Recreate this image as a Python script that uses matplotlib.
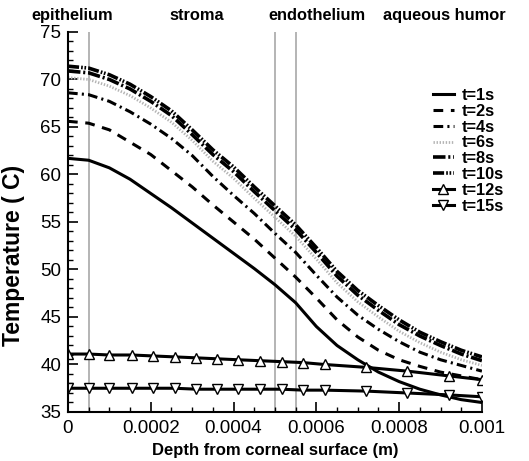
import numpy as np
import matplotlib
matplotlib.use('Agg')
import matplotlib.pyplot as plt
from matplotlib.ticker import MultipleLocator, FixedLocator

plt.rcParams['font.family'] = ['Liberation Sans', 'DejaVu Sans']
plt.rcParams['lines.scale_dashes'] = False

# depth grid (m) for the smooth curves
depth = [0, 0.00005, 0.0001, 0.00015, 0.0002, 0.00025, 0.0003, 0.00035, 0.0004,
         0.00045, 0.0005, 0.00055, 0.0006, 0.00065, 0.0007, 0.00075, 0.0008,
         0.00085, 0.0009, 0.00095, 0.001]

t1 = [61.7, 61.5, 60.7, 59.5, 58.0, 56.5, 54.9, 53.3, 51.7, 50.1, 48.4, 46.5,
      44.0, 42.0, 40.5, 39.2, 38.2, 37.4, 36.8, 36.3, 36.0]
t2 = [65.6, 65.4, 64.7, 63.4, 62.1, 60.4, 58.7, 56.8, 55.0, 53.2, 51.2, 49.2,
      47.0, 44.7, 42.9, 41.5, 40.5, 39.8, 39.2, 38.8, 38.4]
t4 = [68.6, 68.4, 67.7, 66.6, 65.3, 63.8, 62.0, 59.8, 57.8, 55.9, 53.8, 51.8,
      49.4, 47.1, 45.2, 43.7, 42.4, 41.3, 40.5, 39.9, 39.3]
t6 = [70.2, 70.0, 69.3, 68.3, 67.0, 65.5, 63.6, 61.4, 59.6, 57.5, 55.5, 53.5,
      51.1, 48.6, 46.6, 45.0, 43.5, 42.3, 41.3, 40.5, 39.9]
t8 = [70.9, 70.7, 70.0, 69.0, 67.7, 66.2, 64.2, 62.1, 60.3, 58.2, 56.2, 54.2,
      51.8, 49.3, 47.3, 45.7, 44.2, 43.0, 42.0, 41.1, 40.4]
t10 = [71.4, 71.2, 70.5, 69.5, 68.2, 66.7, 64.7, 62.6, 60.8, 58.7, 56.7, 54.7,
       52.3, 49.8, 47.8, 46.2, 44.7, 43.4, 42.4, 41.5, 40.8]

# depth grid of the marked curves
depth_m = [0, 0.00005, 0.0001, 0.000155, 0.000205, 0.000258, 0.00031, 0.00036,
           0.00041, 0.000463, 0.000516, 0.000568, 0.00062, 0.00072, 0.00082,
           0.00092, 0.001]
t12 = [41.1, 41.1, 41.0, 41.0, 40.9, 40.8, 40.7, 40.6, 40.5, 40.4, 40.3, 40.2,
       40.0, 39.7, 39.3, 38.8, 38.4]
t15 = [37.5, 37.5, 37.5, 37.5, 37.5, 37.5, 37.4, 37.4, 37.4, 37.4, 37.4, 37.3,
       37.3, 37.2, 37.0, 36.8, 36.6]

layers = [0.00005, 0.0005, 0.00055]
layer_names = ['epithelium', 'stroma', 'endothelium', 'aqueous humor']
layer_x = [0.136, 0.372, 0.599, 0.839]

fig = plt.figure(figsize=(5.29, 4.61), dpi=100)
ax = fig.add_axes([0.1285, 0.1063, 0.7825, 0.8243])

for xv in layers:
    ax.axvline(xv, color='#a0a0a0', lw=1.1, zorder=1)

lw = 2.2
ax.plot(depth, t1, color='black', lw=lw, label='t=1s')
ax.plot(depth, t2, color='black', lw=lw, dashes=(7, 5.5), label='t=2s')
ax.plot(depth, t4, color='black', lw=lw, dashes=(7, 3, 1.5, 3), label='t=4s')
ax.plot(depth, t6, color='#b4b4b4', lw=2.0, dashes=(1, 1.2), label='t=6s')
ax.plot(depth, t8, color='black', lw=lw + 0.4, dashes=(9, 2, 1.5, 2), label='t=8s')
ax.plot(depth, t10, color='black', lw=lw + 0.4, dashes=(8, 1.5, 1.2, 1.2, 1.2, 1.5), label='t=10s')
ax.plot(depth_m, t12, color='black', lw=lw, marker='^', ms=6.5, mfc='white',
        mec='black', mew=1.0, label='t=12s')
ax.plot(depth_m, t15, color='black', lw=lw, marker='v', ms=6.5, mfc='white',
        mec='black', mew=1.0, label='t=15s')

ax.set_xlim(0, 0.001)
ax.set_ylim(35, 75)
ax.xaxis.set_major_locator(FixedLocator([0, 0.0002, 0.0004, 0.0006, 0.0008, 0.001]))
ax.set_xticklabels(['0', '0.0002', '0.0004', '0.0006', '0.0008', '0.001'])
ax.xaxis.set_minor_locator(MultipleLocator(0.00005))
ax.yaxis.set_major_locator(MultipleLocator(5))
ax.yaxis.set_minor_locator(MultipleLocator(1))

ax.spines['top'].set_visible(False)
ax.spines['right'].set_visible(False)
ax.spines['left'].set_linewidth(1.5)
ax.spines['bottom'].set_linewidth(1.5)
ax.tick_params(which='major', direction='in', length=7, width=1.2, labelsize=13.5, pad=5)
ax.tick_params(which='minor', direction='in', length=3.5, width=1.0)
ax.tick_params(axis='x', which='major', pad=6)

ax.set_xlabel('Depth from corneal surface (m)', fontsize=12, fontweight='bold')
ax.set_ylabel('Temperature ( C)', fontsize=16.5, fontweight='bold')
ax.yaxis.set_label_coords(-0.103, 0.413)

for name, xf in zip(layer_names, layer_x):
    fig.text(xf, 0.967, name, ha='center', va='center', fontsize=11.8, fontweight='bold')

leg = ax.legend(loc='upper right', bbox_to_anchor=(1.07, 0.87), frameon=False,
                handlelength=1.3, handletextpad=0.5, labelspacing=0.05,
                prop={'size': 11.8, 'weight': 'bold'}, borderaxespad=0)

fig.savefig('out.png', dpi=100)
